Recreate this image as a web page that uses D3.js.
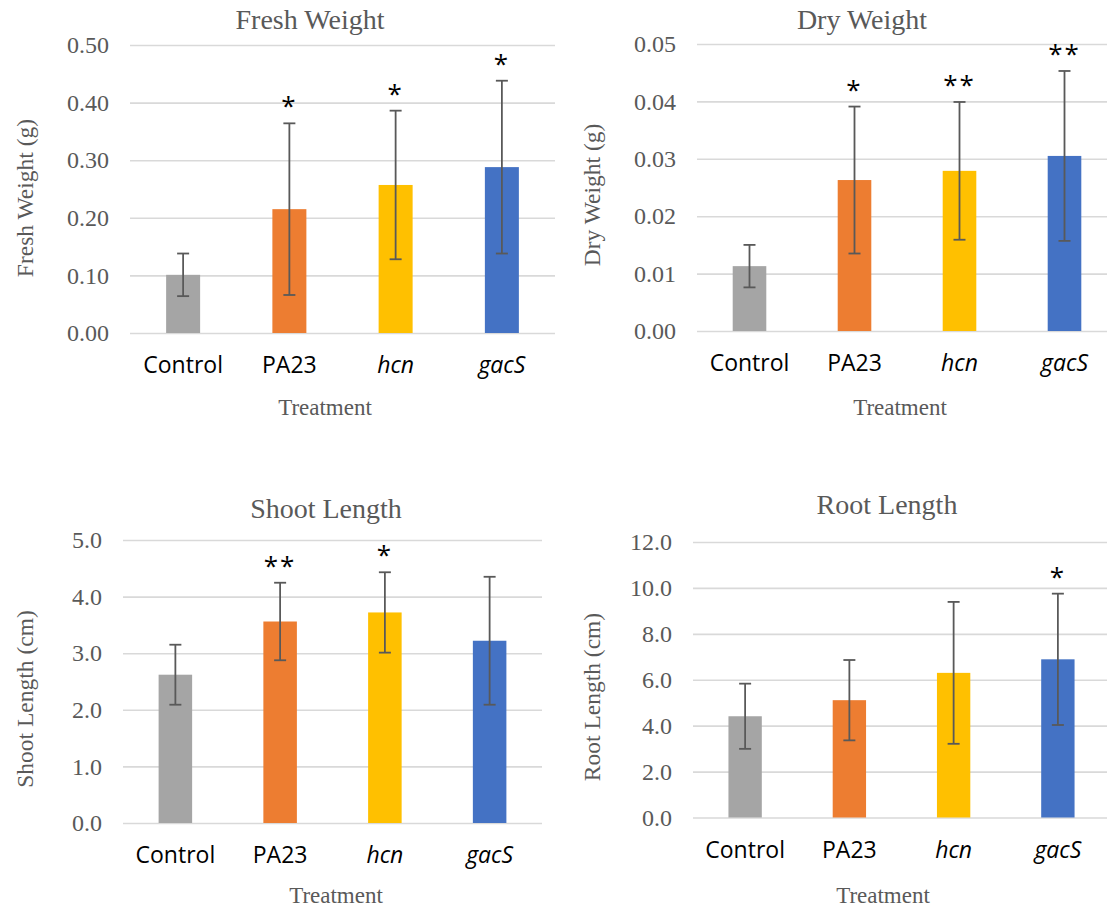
<!DOCTYPE html>
<html>
<head>
<meta charset="utf-8">
<script src="https://cdn.jsdelivr.net/npm/d3@7"></script>
<style>
  body { margin: 0; background: #fff; }
  svg { display: block; }
</style>
</head>
<body>
<svg id="chart" width="1107" height="907"></svg>
<script>
// treatments shown on every panel
const categories = ["Control", "PA23", "hcn", "gacS"];
const italicCats = ["hcn", "gacS"];
const barColors = ["#A5A5A5", "#ED7D31", "#FFC000", "#4472C4"];

// Fresh weight (g)
const freshMean = [0.101, 0.215, 0.257, 0.288];
const freshSd = [0.037, 0.149, 0.129, 0.150];
const freshSig = ["", "*", "*", "*"];
const freshTicks = [0, 0.1, 0.2, 0.3, 0.4, 0.5];

// Dry weight (g)
const dryMean = [0.0113, 0.0263, 0.0279, 0.0305];
const drySd = [0.0037, 0.0128, 0.0120, 0.0148];
const drySig = ["", "*", "**", "**"];
const dryTicks = [0, 0.01, 0.02, 0.03, 0.04, 0.05];

// Shoot length (cm)
const shootMean = [2.62, 3.56, 3.72, 3.22];
const shootSd = [0.53, 0.685, 0.71, 1.13];
const shootSig = ["", "**", "*", ""];
const shootTicks = [0, 1, 2, 3, 4, 5];

// Root length (cm)
const rootMean = [4.41, 5.11, 6.30, 6.89];
const rootSd = [1.42, 1.75, 3.09, 2.86];
const rootSig = ["", "", "", "*"];
const rootTicks = [0, 2, 4, 6, 8, 10, 12];

const serif = "'Liberation Serif', 'Times New Roman', serif";
const sans = "'Open Sans', 'Noto Sans', sans-serif";
const grey = "#595959";

const svg = d3.select("#chart");

function drawPanel(p) {
  const g = svg.append("g");
  const top = p.ticks[p.ticks.length - 1];

  const x = d3.scaleBand()
    .domain(categories)
    .range([p.x0, p.x1])
    .paddingInner(0.68)
    .paddingOuter(0.34);
  const y = d3.scaleLinear().domain([0, top]).range([p.y0, p.y1]);

  // gridlines + tick labels
  const yAxis = d3.axisLeft(y)
    .tickValues(p.ticks)
    .tickFormat(d3.format(p.fmt))
    .tickSize(-(p.x1 - p.x0))
    .tickPadding(p.x0 - p.labelRight);
  const ax = g.append("g")
    .attr("transform", `translate(${p.x0},0)`)
    .call(yAxis);
  ax.select(".domain").remove();
  ax.selectAll(".tick line").attr("stroke", "#D9D9D9").attr("stroke-width", 1.6);
  ax.selectAll(".tick text")
    .attr("fill", grey)
    .style("font-family", serif)
    .style("font-size", "24px");

  // bars
  g.selectAll("rect.bar")
    .data(categories)
    .enter()
    .append("rect")
    .attr("class", "bar")
    .attr("x", d => x(d))
    .attr("width", x.bandwidth())
    .attr("y", (d, i) => y(p.mean[i]))
    .attr("height", (d, i) => y(0) - y(p.mean[i]))
    .attr("fill", (d, i) => barColors[i]);

  // error bars
  const cap = 6;
  const err = g.selectAll("g.err")
    .data(categories)
    .enter()
    .append("g")
    .attr("class", "err")
    .attr("stroke", grey)
    .attr("stroke-width", 1.8);
  err.append("line")
    .attr("x1", d => x(d) + x.bandwidth() / 2)
    .attr("x2", d => x(d) + x.bandwidth() / 2)
    .attr("y1", (d, i) => y(p.mean[i] + p.sd[i]))
    .attr("y2", (d, i) => y(p.mean[i] - p.sd[i]));
  [1, -1].forEach(s => {
    err.append("line")
      .attr("x1", d => x(d) + x.bandwidth() / 2 - cap)
      .attr("x2", d => x(d) + x.bandwidth() / 2 + cap)
      .attr("y1", (d, i) => y(p.mean[i] + s * p.sd[i]))
      .attr("y2", (d, i) => y(p.mean[i] + s * p.sd[i]));
  });

  // significance stars
  g.selectAll("text.sig")
    .data(categories)
    .enter()
    .append("text")
    .attr("class", "sig")
    .attr("x", d => x(d) + x.bandwidth() / 2)
    .attr("y", (d, i) => y(p.mean[i] + p.sd[i]) - 8)
    .attr("text-anchor", "middle")
    .style("font-family", sans)
    .style("font-size", "26px")
    .style("letter-spacing", "2px")
    .attr("fill", "#000")
    .text((d, i) => p.sig[i]);

  // category labels
  g.selectAll("text.cat")
    .data(categories)
    .enter()
    .append("text")
    .attr("class", "cat")
    .attr("x", d => x(d) + x.bandwidth() / 2)
    .attr("y", y(0) + 40)
    .attr("text-anchor", "middle")
    .style("font-family", sans)
    .style("font-size", "23px")
    .style("font-style", d => italicCats.includes(d) ? "italic" : "normal")
    .attr("fill", "#000")
    .text(d => d);

  // chart title
  g.append("text")
    .attr("x", p.titleX)
    .attr("y", p.titleY)
    .attr("text-anchor", "middle")
    .style("font-family", serif)
    .style("font-size", "28px")
    .attr("fill", grey)
    .text(p.title);

  // x axis title
  g.append("text")
    .attr("x", p.xTitleX)
    .attr("y", p.xTitleY)
    .attr("text-anchor", "middle")
    .style("font-family", serif)
    .style("font-size", "23px")
    .attr("fill", grey)
    .text("Treatment");

  // y axis title
  g.append("text")
    .attr("transform", `translate(${p.yTitleX},${p.yTitleY}) rotate(-90)`)
    .attr("text-anchor", "middle")
    .style("font-family", serif)
    .style("font-size", "23.5px")
    .attr("fill", grey)
    .text(p.yLabel);
}

drawPanel({
  title: "Fresh Weight", yLabel: "Fresh Weight (g)",
  mean: freshMean, sd: freshSd, sig: freshSig, ticks: freshTicks, fmt: ".2f",
  x0: 130, x1: 555, y0: 333, y1: 45, labelRight: 109,
  titleX: 310, titleY: 29, xTitleX: 325, xTitleY: 415, yTitleX: 33, yTitleY: 198
});

drawPanel({
  title: "Dry Weight", yLabel: "Dry Weight (g)",
  mean: dryMean, sd: drySd, sig: drySig, ticks: dryTicks, fmt: ".2f",
  x0: 697, x1: 1117, y0: 331, y1: 44, labelRight: 676,
  titleX: 862, titleY: 29, xTitleX: 900, xTitleY: 415, yTitleX: 600, yTitleY: 195
});

drawPanel({
  title: "Shoot Length", yLabel: "Shoot Length (cm)",
  mean: shootMean, sd: shootSd, sig: shootSig, ticks: shootTicks, fmt: ".1f",
  x0: 123, x1: 542, y0: 823, y1: 540, labelRight: 102,
  titleX: 326, titleY: 518, xTitleX: 336, xTitleY: 903, yTitleX: 33, yTitleY: 699
});

drawPanel({
  title: "Root Length", yLabel: "Root Length (cm)",
  mean: rootMean, sd: rootSd, sig: rootSig, ticks: rootTicks, fmt: ".1f",
  x0: 693, x1: 1110, y0: 817.5, y1: 542, labelRight: 672,
  titleX: 887, titleY: 514, xTitleX: 883, xTitleY: 903, yTitleX: 600, yTitleY: 697
});
</script>
</body>
</html>
